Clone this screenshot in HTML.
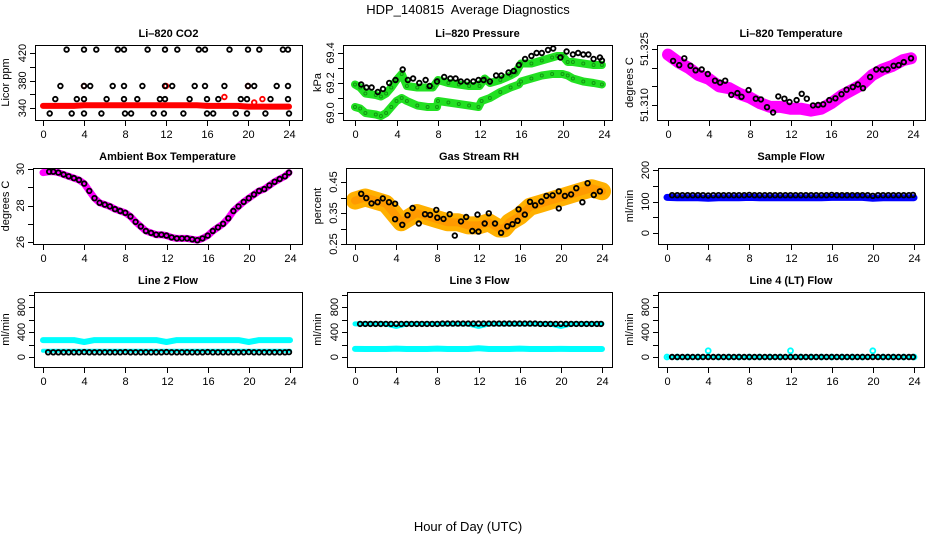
<!DOCTYPE html>
<html><head><meta charset="utf-8">
<style>
html,body{margin:0;padding:0;background:#fff;}
svg{display:block;font-family:"Liberation Sans",Arial,sans-serif;}
</style></head>
<body>
<svg id="chart" width="936" height="540" viewBox="0 0 936 540" xmlns="http://www.w3.org/2000/svg">
<text x="468" y="14" text-anchor="middle" font-size="13">HDP_140815&#160; Average Diagnostics</text>
<text x="468" y="531" text-anchor="middle" font-size="13">Hour of Day (UTC)</text>
</svg>
<script>
// ---------- DATA ----------
const HALF_HOURS = [0.5,1,1.5,2,2.5,3,3.5,4,4.5,5,5.5,6,6.5,7,7.5,8,8.5,9,9.5,10,10.5,11,11.5,12,12.5,13,13.5,14,14.5,15,15.5,16,16.5,17,17.5,18,18.5,19,19.5,20,20.5,21,21.5,22,22.5,23,23.5,23.9];
const HOURS = [0,1,2,3,4,5,6,7,8,9,10,11,12,13,14,15,16,17,18,19,20,21,22,23,24];

// CO2
const co2BlackT = [2.3,4,5.2,7.3,7.9,10.2,11.9,13.1,15.2,15.8,18.2,20,21.1,23.4,23.9, 1.7,4,4.6,6.8,7.9,9.7,11.9,12.6,14.8,15.8,17.7,20,20.6,22.8,23.9, 1.2,3.3,4,6.2,7.9,9.2,11.4,11.9,14.3,16,17.1,19.3,19.9,22.2,23.9, 0.65,2.8,4,5.7,8,8.6,10.8,11.8,13.7,16,16.6,18.8,19.9,21.7,24];
const co2BlackV = [425,425,425,425,425,425,425,425,425,425,425,425,425,425,425, 372,372,372,372,372,372,372,372,372,372,372,372,372,372,372, 353,353,353,353,353,353,353,353,353,353,353,353,353,353,353, 332,332,332,332,332,332,332,332,332,332,332,332,332,332,332];
const co2RedV = [343,343,343,343,344,344,344,344,344,344,344,344,344,344,344,344,343,343,343,343,342,342,342,342,342];
const co2RedOutT = [4,12,17.7,20,20.6,21.4];
const co2RedOutV = [372,372,356,372,348,353];

// Pressure
const presUpT = [0,0.5,1,2,2.5,3,3.5,4,4.5,5,6,7,7.5,8,9,10,11,12,12.5,13,14,15,15.5,16,17,18,19,19.5,20,20.5,21,22,23,23.8];
const presUpV = [69.19,69.17,69.13,69.12,69.11,69.13,69.17,69.22,69.26,69.18,69.17,69.17,69.17,69.22,69.2,69.19,69.18,69.18,69.23,69.2,69.22,69.25,69.27,69.33,69.33,69.35,69.37,69.38,69.38,69.34,69.34,69.33,69.32,69.32];
const presLoT = [0,0.5,1,2,2.5,3,3.5,4,4.5,5,6,7,7.9,8,9,10,11,11.9,12.2,13,14,15,15.8,16,17,18,19,20,20.5,21,22,23,23.8];
const presLoV = [69.04,69.03,69.0,68.99,68.98,69.0,69.04,69.08,69.1,69.08,69.05,69.04,69.04,69.08,69.07,69.06,69.05,69.04,69.08,69.1,69.14,69.17,69.19,69.21,69.23,69.25,69.26,69.26,69.25,69.23,69.21,69.2,69.19];
const presBlkT = [0.6,1.1,1.6,2.2,2.7,3.3,3.9,4.6,5.1,5.6,6.2,6.8,7.2,7.9,8.6,9.2,9.7,10.2,10.8,11.4,11.9,12.4,13,13.6,14.1,14.8,15.3,15.8,16.4,17,17.5,18,18.6,19.1,19.8,20.4,21,21.5,22,22.5,23,23.6,23.8];
const presBlkV = [69.19,69.17,69.17,69.14,69.16,69.2,69.22,69.29,69.22,69.23,69.2,69.22,69.18,69.21,69.24,69.23,69.23,69.21,69.21,69.21,69.22,69.22,69.21,69.25,69.25,69.27,69.28,69.32,69.36,69.38,69.4,69.4,69.42,69.43,69.37,69.41,69.39,69.4,69.39,69.39,69.36,69.37,69.35];

// Li-820 temperature
const ltMagT = [0,1,2,3,4,5,6,7,8,9,10,11,12,13,14,15,16,17,18,19,20,21,22,23,23.8];
const ltMagV = [51.3235,51.3215,51.320,51.318,51.317,51.315,51.3145,51.313,51.312,51.3105,51.3095,51.3095,51.309,51.309,51.3085,51.309,51.3105,51.3125,51.314,51.3155,51.318,51.3195,51.3205,51.322,51.3225];
const ltBlkT = [0.5,1.1,1.6,2.2,2.7,3.3,3.9,4.6,5.1,5.6,6.2,6.8,7.2,7.9,8.6,9.1,9.7,10.3,10.8,11.4,11.9,12.6,13.1,13.6,14.2,14.7,15.2,15.8,16.4,17,17.5,18.1,18.6,19.1,19.8,20.4,21,21.5,22.1,22.6,23.1,23.8];
const ltBlkV = [51.3218,51.3207,51.3225,51.3205,51.3193,51.3195,51.3183,51.3165,51.316,51.3165,51.3127,51.3132,51.3122,51.314,51.3117,51.3115,51.3094,51.308,51.3123,51.3117,51.3108,51.3113,51.313,51.3117,51.3099,51.31,51.3102,51.3113,51.3118,51.3129,51.3141,51.3148,51.3155,51.3145,51.3175,51.3195,51.3195,51.3195,51.3205,51.3207,51.3215,51.3225];

// Ambient box temperature
const ambT = [0,0.6,1,1.5,2,2.5,3,3.5,4,4.5,5,5.5,6,6.5,7,7.5,8,8.5,9,9.5,10,10.5,11,11.5,12,12.5,13,13.5,14,14.5,15,15.5,16,16.5,17,17.5,18,18.5,19,19.5,20,20.5,21,21.5,22,22.5,23,23.5,23.9];
const ambV = [29.8,29.85,29.85,29.8,29.7,29.6,29.5,29.4,29.2,28.8,28.4,28.15,28.05,27.95,27.8,27.7,27.6,27.4,27.1,26.85,26.6,26.5,26.4,26.4,26.35,26.25,26.2,26.2,26.2,26.15,26.1,26.2,26.35,26.6,26.8,27.0,27.3,27.7,27.95,28.2,28.4,28.6,28.8,28.9,29.1,29.3,29.45,29.6,29.8];

// Gas stream RH
const rhBandT = [0,1,2,3,4,4.5,5,6,7,8,9,10,11,12,13,14,14.5,15,16,17,18,19,20,21,22,23,24];
const rhBandV = [0.39,0.40,0.39,0.38,0.34,0.32,0.33,0.35,0.34,0.33,0.32,0.32,0.31,0.31,0.32,0.30,0.30,0.32,0.34,0.37,0.38,0.39,0.40,0.41,0.42,0.43,0.42];
const rhBlkT = [0.6,1.1,1.6,2.2,2.7,3.3,3.9,3.9,4.6,5.1,5.6,6.2,6.8,7.3,7.9,8,8.6,9.2,9.7,10.3,10.8,11.4,11.9,12,12.6,13,13.6,14.2,14.8,15.3,15.8,15.9,16.5,17,17.5,18.1,18.6,19.2,19.8,19.8,20.4,21,21.5,22.1,22.6,23.2,23.8];
const rhBlkV = [0.412,0.398,0.381,0.385,0.397,0.385,0.38,0.33,0.312,0.343,0.366,0.316,0.346,0.344,0.36,0.335,0.331,0.346,0.277,0.323,0.337,0.292,0.345,0.29,0.316,0.349,0.316,0.286,0.307,0.314,0.325,0.362,0.345,0.386,0.375,0.387,0.405,0.407,0.42,0.365,0.405,0.41,0.43,0.385,0.446,0.408,0.42];

// Sample flow
const sfBlueV = [113,112,112,112,110,112,112,112,113,112,112,112,112,112,112,112,113,113,113,113,110,112,112,112,112];
const sfBlackV = [120,120,120,120,120,120,120,119,120,120,120,120,120,120,120,121,120,120,120,120,120,120,120,120,120,120,120,120,120,120,120,121,120,120,120,120,120,120,120,118,120,120,120,120,120,120,120,121];

// Line 2 flow
const l2CyanHiV = [270,270,270,270,240,270,270,270,270,270,270,270,240,270,270,270,270,270,270,270,240,270,270,270,270];
const l2CyanLoV = [100,100,100,100,100,100,100,100,100,100,100,100,100,100,100,100,100,100,100,100,100,100,100,100,100];
const l2BlackV = [75,75,75,75,75,75,75,78,75,75,75,75,75,75,75,78,75,75,75,75,75,75,75,78,75,75,75,75,75,75,75,78,75,75,75,75,75,75,75,78,75,75,75,75,75,75,75,78];

// Line 3 flow
const l3CyanHiV = [530,530,530,530,490,530,530,530,530,530,530,530,490,530,530,530,530,530,530,530,490,530,530,530,530];
const l3CyanLoV = [130,128,128,128,135,128,128,128,135,128,128,128,140,128,128,128,135,128,128,128,130,128,128,128,128];
const l3BlackV = [530,530,530,530,530,530,530,530,530,530,530,530,530,530,530,530,535,535,535,535,535,535,535,535,535,535,535,535,535,535,535,535,535,535,535,530,530,530,530,530,530,530,530,530,530,530,530,530];

// Line 4 flow
const l4CyanV = [0,0,0,0,100,0,0,0,0,0,0,0,100,0,0,0,0,0,0,0,100,0,0,0,0];
const l4BlackV = [0,0,0,0,0,0,0,0,0,0,0,0,0,0,0,0,0,0,0,0,0,0,0,0,0,0,0,0,0,0,0,0,0,0,0,0,0,0,0,0,0,0,0,0,0,0,0,0];

// ---------- DRAWING ----------
const NS = "http://www.w3.org/2000/svg";
const svg = document.getElementById('chart');
function el(tag, parent, attrs){
  const e = document.createElementNS(NS, tag);
  for (const k in attrs) e.setAttribute(k, attrs[k]);
  parent.appendChild(e);
  return e;
}
function makePanel(cfg){
  const g = el('g', svg, {});
  
  
  const [L,T,R,B] = cfg.box;
  const xs = h => cfg.x0 + (cfg.x24 - cfg.x0) * h / 24;
  const [v1,p1,v2,p2] = cfg.y;
  const ys = v => p1 + (v - v1) * (p2 - p1) / (v2 - v1);
  const plot = el('g', g, {});
  
  
  const clipId = 'clip-' + cfg.name;
  const cp = el('clipPath', g, {id: clipId});
  el('rect', cp, {x: L, y: T, width: R - L, height: B - T});
  plot.setAttribute('clip-path', 'url(#' + clipId + ')');
  return {g, plot, xs, ys, cfg};
}
function band(P, ts, vs, color, width, name){
  const pts = ts.map((t,i) => P.xs(t).toFixed(1) + ',' + P.ys(vs[i]).toFixed(1)).join(' ');
  const pl = el('polyline', P.plot, {points: pts, fill: 'none', stroke: color, 'stroke-width': width, 'stroke-linejoin': 'round', 'stroke-linecap': 'round'});
  
  
}
function points(P, ts, vs, color, r, sw, name){
  const gg = el('g', P.plot, {});
  
  
  ts.forEach((t,i) => {
    const c = el('circle', gg, {cx: P.xs(t).toFixed(1), cy: P.ys(vs[i]).toFixed(1), r: r, fill: 'none', stroke: color, 'stroke-width': sw});
    
    
  });
}
function axes(P){
  const c = P.cfg, g = P.g;
  const [L,T,R,B] = c.box;
  const frame = el('rect', g, {x: L + 0.5, y: T + 0.5, width: R - L, height: B - T, fill: 'none', stroke: '#000', 'stroke-width': 1});
  
  
  const title = el('text', g, {x: (L + R) / 2, y: T - 8, 'text-anchor': 'middle', 'font-size': 11, 'font-weight': 'bold'});
  title.textContent = c.title;
  
  
  const xa = el('g', g, {});
  
  
  [0,4,8,12,16,20,24].forEach(h => {
    const x = Math.round(P.xs(h)) + 0.5;
    el('line', xa, {x1: x, x2: x, y1: B + 1, y2: B + 6, stroke: '#000'});
    const t = el('text', xa, {x: x, y: B + 18, 'text-anchor': 'middle', 'font-size': 11});
    t.textContent = h;
    
    
  });
  const ya = el('g', g, {});
  
  
  c.yticks.forEach(v => {
    const y = Math.round(P.ys(v)) + 0.5;
    el('line', ya, {x1: L - 5, x2: L, y1: y, y2: y, stroke: '#000'});
  });
  c.ylabels.forEach((lab, i) => {
    const y = P.ys(c.ylabelVals[i]);
    const t = el('text', ya, {x: L - 9, y: y, 'text-anchor': 'middle', 'font-size': 11, transform: 'rotate(-90 ' + (L - 9) + ' ' + y + ')'});
    t.textContent = lab;
    
    
  });
  const ym = (T + B) / 2;
  const yl = el('text', g, {x: c.ylx, y: ym, 'text-anchor': 'middle', 'font-size': 11, transform: 'rotate(-90 ' + c.ylx + ' ' + ym + ')'});
  yl.textContent = c.ylabel;
  
  
}

const BW = 1.8;

// Panel 1: CO2
let P = makePanel({name:'co2', box:[35,45,302,120], x0:43, x24:289, y:[340,108,420,53]});
band(P, HOURS, co2RedV, '#ff0000', 6, 'co2-red-band');
points(P, co2RedOutT, co2RedOutV, '#ff0000', 2.3, BW, 'co2-red-outliers');
points(P, co2BlackT, co2BlackV, '#000', 2.3, BW, 'co2-black-series');
P.cfg.title='Li\u2013820 CO2'; P.cfg.ylabel='Licor ppm'; P.cfg.ylx=9;
P.cfg.yticks=[340,360,380,400,420]; P.cfg.ylabels=['340','380','420']; P.cfg.ylabelVals=[340,380,420];
axes(P);

// Panel 2: Pressure
P = makePanel({name:'pressure', box:[343,45,612,120], x0:355, x24:604, y:[69.0,113,69.4,53]});
band(P, presUpT, presUpV, '#22e022', 8, 'pressure-green-upper');
band(P, presLoT, presLoV, '#22e022', 8, 'pressure-green-lower');
points(P, presUpT, presUpV, '#119911', 1.5, 1, 'pressure-green-upper-pts');
points(P, presLoT, presLoV, '#119911', 1.5, 1, 'pressure-green-lower-pts');
points(P, presBlkT, presBlkV, '#000', 2.3, BW, 'pressure-black-series');
P.cfg.title='Li\u2013820 Pressure'; P.cfg.ylabel='kPa'; P.cfg.ylx=321;
P.cfg.yticks=[69.0,69.1,69.2,69.3,69.4]; P.cfg.ylabels=['69.0','69.2','69.4']; P.cfg.ylabelVals=[69.0,69.2,69.4];
axes(P);

// Panel 3: Li-820 temperature
P = makePanel({name:'li820-temp', box:[657,45,925,120], x0:668, x24:913, y:[51.310,105,51.325,49]});
band(P, ltMagT, ltMagV, '#ff00ff', 12, 'li820-temp-magenta-band');
points(P, ltBlkT, ltBlkV, '#000', 2.3, BW, 'li820-temp-black-series');
P.cfg.title='Li\u2013820 Temperature'; P.cfg.ylabel='degrees C'; P.cfg.ylx=633;
P.cfg.yticks=[51.310,51.315,51.320,51.325]; P.cfg.ylabels=['51.310','51.325']; P.cfg.ylabelVals=[51.310,51.325];
axes(P);

// Panel 4: Ambient box temperature
P = makePanel({name:'ambient-temp', box:[33,168,302,244], x0:43, x24:290, y:[26,242,30,169]});
band(P, ambT, ambV, '#ff00ff', 7, 'ambient-temp-magenta-band');
points(P, ambT.slice(1), ambV.slice(1), '#000', 2.3, BW, 'ambient-temp-black-series');
P.cfg.title='Ambient Box Temperature'; P.cfg.ylabel='degrees C'; P.cfg.ylx=9;
P.cfg.yticks=[26,27,28,29,30]; P.cfg.ylabels=['26','28','30']; P.cfg.ylabelVals=[26,28,30];
axes(P);

// Panel 5: Gas stream RH
P = makePanel({name:'gas-rh', box:[346,168,612,244], x0:355, x24:602, y:[0.25,244,0.45,182]});
band(P, rhBandT, rhBandV, '#ffb000', 18, 'gas-rh-orange-band');
band(P, rhBandT, rhBandV, '#ff9a00', 8, 'gas-rh-orange-core');
points(P, rhBlkT, rhBlkV, '#000', 2.3, BW, 'gas-rh-black-series');
P.cfg.title='Gas Stream RH'; P.cfg.ylabel='percent'; P.cfg.ylx=321;
P.cfg.yticks=[0.25,0.30,0.35,0.40,0.45]; P.cfg.ylabels=['0.25','0.35','0.45']; P.cfg.ylabelVals=[0.25,0.35,0.45];
axes(P);

// Panel 6: Sample flow
P = makePanel({name:'sample-flow', box:[658,168,924,244], x0:667, x24:914, y:[0,233,200,170]});
band(P, HOURS, sfBlueV, '#0000ff', 7, 'sample-flow-blue-band');
points(P, HALF_HOURS, sfBlackV, '#000', 2.3, BW, 'sample-flow-black-series');
P.cfg.title='Sample Flow'; P.cfg.ylabel='ml/min'; P.cfg.ylx=633;
P.cfg.yticks=[0,50,100,150,200]; P.cfg.ylabels=['0','100','200']; P.cfg.ylabelVals=[0,100,200];
axes(P);

// Panel 7: Line 2 flow
P = makePanel({name:'line2-flow', box:[34,292,302,367], x0:43, x24:290, y:[0,357,800,307]});
band(P, HOURS, l2CyanHiV, '#00ffff', 6, 'line2-cyan-upper');
band(P, HOURS, l2CyanLoV, '#00ffff', 4, 'line2-cyan-lower');
points(P, HALF_HOURS, l2BlackV, '#000', 2.3, BW, 'line2-black-series');
P.cfg.title='Line 2 Flow'; P.cfg.ylabel='ml/min'; P.cfg.ylx=9;
P.cfg.yticks=[0,200,400,600,800,1000]; P.cfg.ylabels=['0','400','800']; P.cfg.ylabelVals=[0,400,800];
axes(P);

// Panel 8: Line 3 flow
P = makePanel({name:'line3-flow', box:[347,292,612,367], x0:355, x24:602, y:[0,357,800,307]});
band(P, HOURS, l3CyanHiV, '#00ffff', 5, 'line3-cyan-upper');
band(P, HOURS, l3CyanLoV, '#00ffff', 6, 'line3-cyan-lower');
points(P, HALF_HOURS, l3BlackV, '#000', 2.3, BW, 'line3-black-series');
P.cfg.title='Line 3 Flow'; P.cfg.ylabel='ml/min'; P.cfg.ylx=321;
P.cfg.yticks=[0,200,400,600,800,1000]; P.cfg.ylabels=['0','400','800']; P.cfg.ylabelVals=[0,400,800];
axes(P);

// Panel 9: Line 4 flow
P = makePanel({name:'line4-flow', box:[658,292,924,367], x0:667, x24:914, y:[0,357,800,307]});
band(P, HOURS, l4CyanV.map(v => 0), '#00ffff', 3, 'line4-cyan-base');
points(P, HOURS, l4CyanV, '#00ffff', 2.5, 1.8, 'line4-cyan-series');
points(P, HALF_HOURS, l4BlackV, '#000', 2.3, BW, 'line4-black-series');
P.cfg.title='Line 4 (LT) Flow'; P.cfg.ylabel='ml/min'; P.cfg.ylx=633;
P.cfg.yticks=[0,200,400,600,800,1000]; P.cfg.ylabels=['0','400','800']; P.cfg.ylabelVals=[0,400,800];
axes(P);
</script>
</body></html>
